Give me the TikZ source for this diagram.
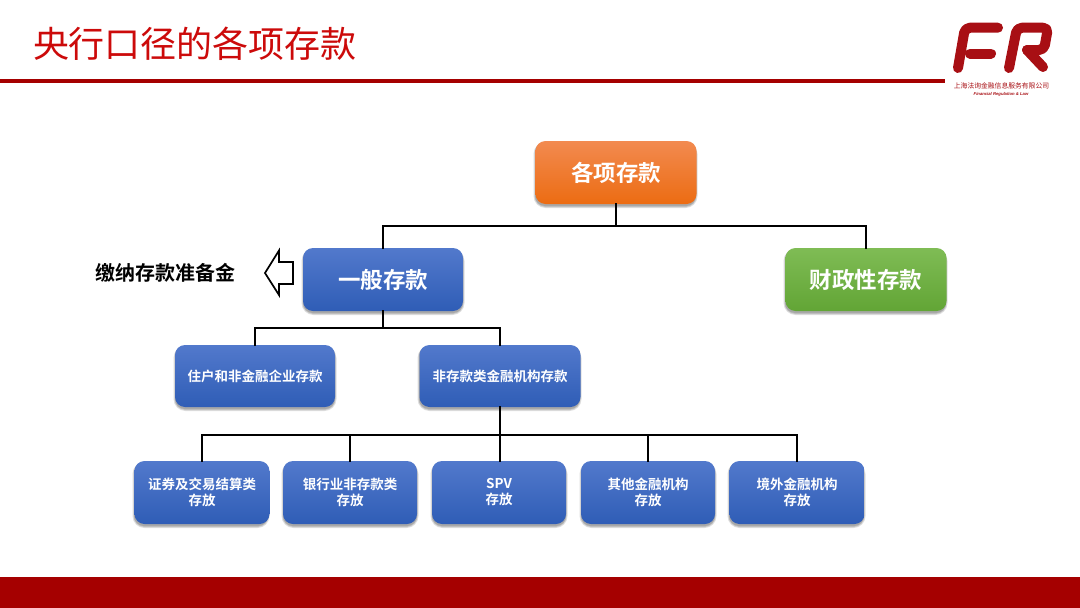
\documentclass[tikz,border=0pt]{standalone}
\usepackage{fontspec}
\setmainfont{Noto Sans CJK SC}
\newfontfamily\cjkb{Noto Sans CJK SC Bold}
\newfontfamily\latinb[BoldFont={Liberation Sans Bold}]{Liberation Sans}
\usetikzlibrary{calc}
\definecolor{frred}{HTML}{A50000}
\definecolor{titlered}{HTML}{CC0A0A}
\definecolor{logored}{HTML}{A80F14}
\definecolor{blue1}{HTML}{5279CC}
\definecolor{blue2}{HTML}{2F5DB6}
\definecolor{orange1}{HTML}{F28A50}
\definecolor{orange2}{HTML}{EC6C12}
\definecolor{green1}{HTML}{7FBC55}
\definecolor{green2}{HTML}{62A535}
\tikzset{
  x=1pt,y=-1pt,
  box/.style={rounded corners=10pt,inner sep=0pt,minimum height=63pt,align=center,text=white,font=\cjkb},
  bluebox/.style={box,top color=blue1,bottom color=blue2},
  orangebox/.style={box,top color=orange1,bottom color=orange2},
  greenbox/.style={box,top color=green1,bottom color=green2},
  big/.style={font=\cjkb\fontsize{22.5}{26}\selectfont},
  small/.style={font=\cjkb\fontsize{13.5}{16}\selectfont},
  link/.style={draw=black,line width=1.8pt,line cap=rect},
  shadowbox/.style={fill=black,opacity=.13,draw=none},
  logo/.style={draw=logored,line width=10pt,line cap=round,line join=round,rounded corners=5pt},
}
\newcommand{\boxshadow}[4]{%
  \fill[shadowbox,rounded corners=12pt] (#1-1.5,#3+1) rectangle (#2+1.5,#4+4);
  \fill[shadowbox,rounded corners=11pt] (#1-.5,#3+1) rectangle (#2+.5,#4+3);
  \fill[shadowbox,rounded corners=10pt] (#1,#3+1) rectangle (#2,#4+2);
}
\begin{document}
\begin{tikzpicture}
\useasboundingbox (0,0) rectangle (1080,608);
\fill[white] (0,0) rectangle (1080,608);
% title band and footer
\node[anchor=center,text=titlered,inner sep=0pt,font=\fontsize{36}{40}\selectfont] (title) at (195,44) {央行口径的各项存款};
\fill[frred] (0,78.5) rectangle (945,83);
\fill[frred] (0,577) rectangle (1080,608);
% logo
\draw[logo] (958,68) -- (965,27.7) -- (998,27.7);
\draw[logo,rounded corners=0pt] (970,53.5) -- (991,53.5);
\draw[logo] (1009,68) -- (1017,27.7) -- (1048,27.7) -- (1044,50) -- (1027,50);
\draw[logo,rounded corners=0pt] (1027,50) -- (1043,67);
\node[text=logored,inner sep=0pt,font=\fontsize{6.8}{8}\selectfont] (lg1) at (1001.5,86) {上海法询金融信息服务有限公司};
\node[text=logored,inner sep=0pt,font=\latinb\bfseries\itshape\fontsize{4.2}{5}\selectfont] (lg2) at (1001,94) {Financial Regulation \& Law};
% shadows
\boxshadow{535}{696}{141}{204}
\boxshadow{303}{463}{248}{311}
\boxshadow{785}{946}{248}{311}
\boxshadow{175}{335}{345}{407}
\boxshadow{419}{580}{345}{407}
\boxshadow{134}{268}{461}{524}
\boxshadow{283}{417}{461}{524}
\boxshadow{432}{566}{461}{524}
\boxshadow{581}{715}{461}{524}
\boxshadow{729}{864}{461}{524}
% boxes
\node[orangebox,big,minimum width=161pt] (root) at (616,172.5) {各项存款};
\node[bluebox,big,minimum width=160pt] (general) at (383,279.5) {一般存款};
\node[greenbox,big,minimum width=161pt] (fiscal) at (866,279.5) {财政性存款};
\node[bluebox,small,minimum width=160pt,minimum height=62pt] (house) at (255,376) {住户和非金融企业存款};
\node[bluebox,small,minimum width=161pt,minimum height=62pt] (nondep) at (500,376) {非存款类金融机构存款};
\node[bluebox,small,minimum width=135pt] (sec) at (202,492.5) {证券及交易结算类\\存放};
\node[bluebox,small,minimum width=134pt] (bank) at (350,492.5) {银行业非存款类\\存放};
\node[bluebox,small,minimum width=134pt] (spv) at (499,492.5) {SPV\\存放};
\node[bluebox,small,minimum width=134pt] (other) at (648,492.5) {其他金融机构\\存放};
\node[bluebox,small,minimum width=135pt] (abroad) at (797,492.5) {境外金融机构\\存放};
% connectors
\coordinate (b1) at (root.south |- 0,226);
\coordinate (b2) at (general.south |- 0,328);
\coordinate (b3) at (nondep.south |- 0,435);
\draw[link] (root.south) -- (b1);
\draw[link] (general.north) |- (b1) -| (fiscal.north);
\draw[link] (general.south) -- (b2);
\draw[link] (house.north) |- (b2) -| (nondep.north);
\draw[link] (nondep.south) -- (nondep.south |- spv.north);
\draw[link] (sec.north) |- (b3) -| (abroad.north);
\draw[link] (bank.north) -- (bank.north |- b3);
\draw[link] (other.north) -- (other.north |- b3);
% reserve label and arrow
\node[inner sep=0pt,text=black,font=\cjkb\fontsize{20}{24}\selectfont] (reserve) at (165.5,273) {缴纳存款准备金};
\draw[black,line width=1.7pt,fill=white,miter limit=4] (265,273) -- (279,250.5) -- (279,262) -- (293,262) -- (293,284) -- (279,284) -- (279,295) -- cycle;
\end{tikzpicture}
\end{document}
